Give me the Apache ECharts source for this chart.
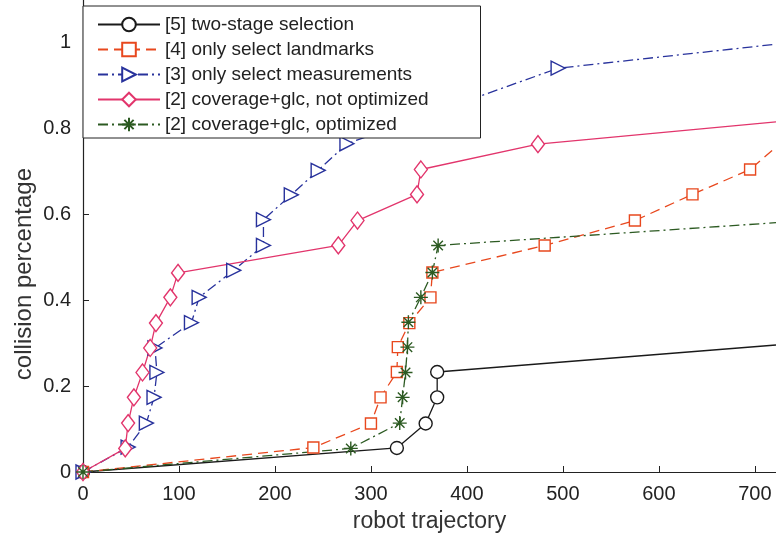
<!DOCTYPE html>
<html>
<head>
<meta charset="utf-8">
<script src="https://cdn.jsdelivr.net/npm/echarts@6.0.0/dist/echarts.min.js"></script>
<style>
  html, body { margin: 0; padding: 0; background: #fff; }
  #chart1 { width: 776px; height: 539px; }
</style>
</head>
<body>
<div id="chart1"></div>
<script>
// axis range (right side of the original figure is cut off)
var X_MAX = 722;
var Y_MAX = 1.1;

// [5] two-stage selection
var twoStageX = [0, 327, 357, 369, 369, 722];
var twoStageY = [0, 0.056, 0.113, 0.174, 0.233, 0.296];

// [4] only select landmarks
var landmarksX = [0, 240, 300, 310, 327, 328, 340, 362, 364, 481, 575, 635, 695, 722];
var landmarksY = [0, 0.057, 0.113, 0.174, 0.233, 0.291, 0.347, 0.407, 0.465, 0.528, 0.586, 0.647, 0.705, 0.757];

// [3] only select measurements
var measX = [0, 47, 66, 74, 77, 75, 113, 121, 157, 188, 188, 217, 245, 275, 495, 722];
var measY = [0, 0.058, 0.114, 0.174, 0.232, 0.289, 0.348, 0.407, 0.47, 0.528, 0.588, 0.646, 0.703, 0.765, 0.941, 0.997];

// [2] coverage+glc, not optimized
var notOptX = [0, 44, 47, 53, 62, 70, 76, 91, 99, 266, 286, 348, 352, 474, 722];
var notOptY = [0, 0.055, 0.114, 0.174, 0.232, 0.289, 0.347, 0.407, 0.464, 0.528, 0.586, 0.647, 0.705, 0.764, 0.816];

// [2] coverage+glc, optimized
var optX = [0, 279, 330, 333, 336, 338, 339, 352, 364, 370, 722];
var optY = [0, 0.055, 0.114, 0.174, 0.232, 0.291, 0.349, 0.407, 0.465, 0.528, 0.581];

var names = [
  '[5] two-stage selection',
  '[4] only select landmarks',
  '[3] only select measurements',
  '[2] coverage+glc, not optimized',
  '[2] coverage+glc, optimized'
];

var FONT = 'Liberation Sans, Arial, Helvetica, sans-serif';
var dashDot = [10, 4, 2, 4];
var asterisk = 'path://M5,0L5,10M0,5L10,5M1.6,1.6L8.4,8.4M1.6,8.4L8.4,1.6';

function pts(xs, ys) {
  return xs.map(function (x, i) {
    // last point sits on the cut-off edge: no marker there
    if (x >= X_MAX) return { value: [x, ys[i]], symbol: 'none' };
    return [x, ys[i]];
  });
}

function makeSeries(name, xs, ys, color, lineType, symbol, size, rotate, fill) {
  return {
    name: name,
    type: 'line',
    data: pts(xs, ys),
    color: color,
    symbol: symbol,
    symbolSize: size,
    symbolRotate: rotate,
    showAllSymbol: true,
    animation: false,
    lineStyle: { color: color, width: 1.3, type: lineType },
    itemStyle: { color: fill, borderColor: color, borderWidth: 1.4 }
  };
}

var chartDom = document.getElementById('chart1');
var myChart = echarts.init(chartDom);
var option;

option = {
  animation: false,
  textStyle: { fontFamily: FONT },
  grid: { left: 83, right: 0, top: 0, bottom: 67 },
  legend: {
    left: 83,
    top: 6,
    orient: 'vertical',
    itemWidth: 62,
    itemHeight: 17,
    itemGap: 6,
    padding: [9, 52, 4, 14],
    backgroundColor: '#fff',
    borderColor: '#222',
    borderWidth: 1,
    borderRadius: 0,
    textStyle: { fontSize: 19, color: '#222', fontFamily: FONT },
    data: names
  },
  xAxis: {
    type: 'value',
    min: 0,
    max: X_MAX,
    interval: 100,
    name: 'robot trajectory',
    nameLocation: 'middle',
    nameGap: 38,
    nameTextStyle: { fontSize: 23, color: '#333', fontFamily: FONT },
    axisLine: { lineStyle: { color: '#222', width: 1.2 } },
    axisTick: { inside: true, length: 6, lineStyle: { color: '#222' } },
    axisLabel: { fontSize: 20, color: '#222', margin: 12, showMaxLabel: false },
    splitLine: { show: false }
  },
  yAxis: {
    type: 'value',
    min: 0,
    max: Y_MAX,
    interval: 0.2,
    axisLine: { show: true, lineStyle: { color: '#222', width: 1.2 } },
    axisTick: { show: true, inside: true, length: 6, lineStyle: { color: '#222' } },
    axisLabel: { fontSize: 20, color: '#222', margin: 12, showMaxLabel: false },
    splitLine: { show: false }
  },
  graphic: [{
    type: 'text',
    left: 12,
    top: 168,
    rotation: Math.PI / 2,
    style: { text: 'collision percentage', fill: '#333', font: '24px ' + FONT }
  }],
  series: [
    makeSeries(names[0], twoStageX, twoStageY, '#1a1a1a', 'solid', 'circle', 13, 0, '#fff'),
    makeSeries(names[1], landmarksX, landmarksY, '#e8481e', [10, 6], 'rect', 11, 0, '#fff'),
    makeSeries(names[2], measX, measY, '#28329c', dashDot, 'triangle', 14, -90, '#fff'),
    makeSeries(names[3], notOptX, notOptY, '#e2356c', 'solid', 'diamond', [13, 17], 0, '#fff'),
    makeSeries(names[4], optX, optY, '#2c5a22', dashDot, asterisk, 14, 0, '#2c5a22')
  ]
};

option && myChart.setOption(option);
window.onresize = function() {
  myChart.resize();
};
</script>
</body>
</html>
